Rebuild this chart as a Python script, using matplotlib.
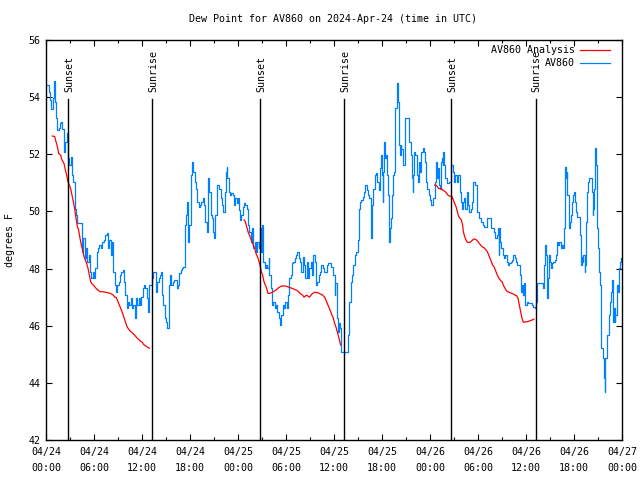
import matplotlib
matplotlib.use("Agg")
import matplotlib.pyplot as plt
import numpy as np

# ---------------- data ----------------
# hours since 2024-04-24 00:00 UTC
obs_hours = [0.17, 0.33, 0.5, 0.67, 0.83, 1.0, 1.17, 1.25, 1.42, 1.58, 1.75, 1.92, 2.04, 2.25, 2.42, 2.58, 2.75, 2.92, 3.08, 3.25,
             3.42, 3.58, 3.75, 3.92, 4.17, 4.33, 4.5, 4.67, 4.83, 5.0, 5.17, 5.33, 5.5, 5.67, 5.83, 6.0, 6.17, 6.33, 6.5, 6.67,
             6.83, 7.04, 7.25, 7.42, 7.58, 7.75, 7.92, 8.08, 8.25, 8.42, 8.58, 8.75, 8.92, 9.08, 9.25, 9.42, 9.58, 9.75, 9.92, 10.08,
             10.25, 10.42, 10.58, 10.75, 10.92, 11.08, 11.25, 11.42, 11.58, 11.75, 11.92, 12.08, 12.25,
             12.42, 12.58, 12.75, 12.92, 13.08, 13.25, 13.42, 13.58, 13.75, 13.92, 14.08, 14.25, 14.42, 14.5, 14.67, 14.83, 15.0, 15.17,
             15.33, 15.42, 15.5, 15.67, 15.83, 16.0, 16.17, 16.33, 16.5, 16.67, 16.83, 17.0, 17.17, 17.33, 17.42, 17.5, 17.67, 17.75,
             17.92, 18.08, 18.17, 18.29, 18.42, 18.58, 18.75, 18.92, 19.08, 19.25, 19.42, 19.58, 19.75, 19.92, 20.08, 20.25, 20.42,
             20.58, 20.75, 20.92, 21.04, 21.17, 21.33, 21.5, 21.67, 21.83, 22.0, 22.17, 22.33, 22.5, 22.58, 22.67, 22.83, 23.0,
             23.17, 23.33, 23.5, 23.67, 23.83, 24.0, 24.17,
             24.25, 24.42, 24.58, 24.75, 24.92, 25.08, 25.25, 25.42, 25.58, 25.75, 25.92, 26.08, 26.25, 26.42, 26.58, 26.67, 26.79,
             26.92, 27.0, 27.08, 27.17, 27.33, 27.5, 27.67, 27.83, 27.92, 28.08, 28.25, 28.42, 28.58, 28.75, 28.92, 29.08, 29.25,
             29.42, 29.58, 29.75, 29.92, 30.08, 30.25, 30.42, 30.58, 30.75, 30.92, 31.08, 31.25, 31.42, 31.58, 31.75, 31.92, 32.08,
             32.25, 32.42, 32.58, 32.75, 32.92, 33.08, 33.25, 33.42, 33.58, 33.75, 33.92, 34.08, 34.25, 34.42, 34.58, 34.75, 34.92,
             35.08, 35.25, 35.42, 35.58, 35.75, 35.92, 36.08, 36.17,
             36.33, 36.5, 36.67, 36.75, 36.92, 37.08, 37.25, 37.42, 37.58, 37.75, 37.92, 38.08, 38.25, 38.42, 38.58, 38.75, 38.92,
             39.0, 39.08, 39.25, 39.42, 39.58, 39.75, 39.92, 40.08, 40.25, 40.42, 40.58, 40.67, 40.75, 40.92, 41.08, 41.25, 41.42,
             41.58, 41.75, 41.92, 42.0, 42.08, 42.17, 42.29, 42.42, 42.5, 42.58, 42.75, 42.83, 42.92, 43.0, 43.08, 43.25, 43.33,
             43.5, 43.58, 43.67, 43.83, 43.92, 44.0, 44.08, 44.17, 44.25, 44.33, 44.42, 44.58, 44.67, 44.83, 44.92, 45.08, 45.25,
             45.33, 45.42, 45.58, 45.75, 45.83, 45.92, 46.0, 46.17, 46.33, 46.5, 46.58, 46.75, 46.92, 47.08, 47.25, 47.33, 47.5,
             47.67, 47.83, 48.0, 48.17,
             48.25, 48.42, 48.58, 48.75, 48.92, 49.0, 49.17, 49.25, 49.42, 49.5, 49.58, 49.67, 49.75, 49.92, 50.08, 50.25, 50.42,
             50.58, 50.67, 50.83, 51.0, 51.17, 51.33, 51.5, 51.67, 51.75, 51.83, 51.92, 52.0, 52.17, 52.25, 52.42, 52.58, 52.67,
             52.75, 52.92, 53.08, 53.25, 53.33, 53.5, 53.67, 53.83, 54.0, 54.17, 54.33, 54.42, 54.58, 54.75, 54.92, 55.08, 55.25,
             55.5, 55.67, 55.83, 56.0, 56.17, 56.33, 56.5, 56.58, 56.67, 56.75, 56.92, 57.08, 57.25, 57.42, 57.58, 57.75, 57.92,
             58.08, 58.25, 58.42, 58.58, 58.75, 58.92, 59.08, 59.25, 59.33, 59.5, 59.58, 59.75, 59.83, 59.92, 60.08, 60.17,
             60.25, 60.42, 60.58, 60.75, 60.92, 61.08, 61.25, 61.33, 61.42, 61.58, 61.75, 61.92, 62.08, 62.25, 62.42, 62.5, 62.58,
             62.67, 62.75, 62.92, 63.0, 63.17, 63.25, 63.42, 63.58, 63.75, 63.92, 64.0, 64.17, 64.33, 64.5, 64.67, 64.75, 64.83,
             64.92, 65.0, 65.08, 65.17, 65.33, 65.42, 65.5, 65.67, 65.75, 65.92, 66.0, 66.08, 66.17, 66.25, 66.33, 66.42, 66.58,
             66.75, 66.83, 66.92, 67.0, 67.08, 67.17, 67.33, 67.42, 67.5, 67.58, 67.75, 67.92, 68.08, 68.25, 68.33, 68.42, 68.5,
             68.58, 68.67, 68.75, 68.83, 68.92, 69.0, 69.17, 69.25, 69.33, 69.42, 69.58, 69.67, 69.75, 69.83, 69.92, 70.08, 70.17,
             70.33, 70.42, 70.5, 70.67, 70.75, 70.83, 70.92, 71.0, 71.08, 71.17, 71.33, 71.42, 71.5, 71.58, 71.67, 71.75, 71.83, 71.92]
obs_dewpt = [54.42, 54.19, 53.9, 53.6, 53.96, 54.57, 53.84, 53.26, 52.85, 52.91, 53.08, 53.14, 52.9, 52.09, 52.44, 52.73, 51.86, 51.63, 51.92, 51.27,
             51.04, 50.1, 49.87, 49.58, 49.58, 49.58, 48.59, 49.06, 48.36, 48.71, 48.24, 48.48, 47.89, 47.66, 47.89, 47.66, 48.01, 48.59, 48.71, 48.82,
             48.71, 48.94, 49.0, 49.17, 49.23, 48.71, 49.0, 48.48, 48.94, 47.89, 47.42, 47.19, 47.42, 47.54, 47.77, 47.89, 47.95, 47.54, 47.07, 46.61,
             46.84, 46.72, 46.96, 46.61, 46.72, 46.26, 46.96, 46.72, 46.96, 46.72, 47.0, 47.31, 47.42,
             47.31, 46.96, 46.49, 47.42, 47.42, 47.66, 47.89, 47.89, 47.19, 47.54, 47.66, 47.77, 47.89, 47.07, 46.72, 46.26, 46.14, 45.91,
             46.49, 47.42, 47.77, 47.42, 47.54, 47.6, 47.6, 47.31, 47.42, 47.83, 47.95, 48.01, 48.07, 48.48, 49.52, 49.87, 50.34, 48.94,
             49.52, 50.1, 51.27, 51.74, 51.39, 51.04, 50.8, 50.34, 50.17, 50.22, 50.34, 50.46, 50.22, 49.64, 49.29, 51.16, 50.69,
             49.87, 49.76, 49.29, 49.06, 49.87, 50.92, 50.92, 50.8, 50.46, 50.22, 49.99, 50.69, 51.39, 51.56, 51.16, 50.69, 50.57,
             50.63, 50.57, 50.22, 50.46, 50.28, 50.46, 50.05,
             49.7, 49.87, 50.17, 50.28, 50.22, 50.1, 49.52, 49.29, 48.94, 49.41, 48.71, 48.94, 48.59, 48.94, 48.71, 48.94, 49.41,
             48.59, 49.52, 49.06, 48.24, 48.01, 48.12, 48.01, 48.36, 47.77, 47.31, 46.72, 46.84, 46.61, 46.72, 46.49, 46.26, 46.02,
             46.37, 46.72, 46.61, 46.84, 46.61, 47.07, 47.66, 47.77, 48.18, 48.24, 48.36, 48.48, 48.59, 48.36, 48.24, 47.89, 48.42,
             48.12, 47.66, 48.24, 47.66, 48.01, 48.24, 47.77, 48.48, 48.24, 47.42, 47.54, 47.77, 47.89, 48.12, 48.01, 47.89, 47.89,
             48.12, 48.18, 48.18, 48.07, 48.07, 47.77, 47.07, 47.48,
             46.26, 45.79, 46.08, 45.91, 45.09, 45.09, 45.09, 45.09, 45.09, 45.67, 46.84, 47.54, 47.77, 48.12, 48.48, 48.59, 48.59,
             49.0, 50.1, 50.34, 50.4, 50.52, 50.69, 50.92, 50.75, 50.57, 50.46, 49.41, 49.06, 50.22, 50.8, 51.27, 51.33, 51.04,
             50.75, 51.51, 51.97, 51.27, 50.34, 51.39, 52.44, 51.86, 51.97, 51.27, 50.57, 50.22, 48.94, 49.41, 49.76, 50.57, 51.27,
             51.39, 52.09, 53.61, 53.73, 54.48, 53.84, 53.37, 52.32, 51.97, 52.32, 52.2, 51.97, 51.62, 51.97, 53.26, 53.26, 53.26,
             52.79, 52.44, 51.97, 51.16, 50.69, 51.27, 52.09, 51.97, 51.27, 51.04, 51.74, 51.39, 52.09, 52.21, 52.09, 51.74, 51.04,
             50.8, 50.57, 50.4, 50.22,
             50.22, 50.46, 51.04, 51.74, 51.16, 51.51, 50.92, 50.8, 51.74, 51.86, 51.62, 52.09, 51.62, 51.16, 50.98, 50.98, 51.04,
             51.04, 51.62, 51.39, 51.04, 51.27, 51.04, 51.27, 51.27, 50.69, 50.34, 50.34, 50.1, 50.34, 50.46, 50.1, 50.34, 50.69,
             50.22, 49.99, 50.1, 50.34, 51.04, 51.04, 50.92, 49.99, 49.99, 49.76, 49.76, 49.64, 49.52, 49.47, 49.47, 49.76, 49.76,
             49.76, 49.41, 49.41, 49.29, 49.06, 49.17, 49.41, 48.48, 49.41, 48.94, 48.71, 48.48, 48.36, 48.48, 48.24, 48.12, 48.18,
             48.24, 48.3, 48.48, 48.36, 48.24, 48.12, 48.12, 47.77, 47.19, 47.42, 47.07, 47.48, 47.19, 46.72, 46.78, 46.84,
             46.78, 46.78, 46.78, 46.72, 46.66, 46.61, 46.84, 47.25, 47.48, 47.48, 47.48, 47.48, 47.31, 48.12, 48.82, 48.48, 47.31,
             46.96, 47.66, 48.48, 48.24, 48.01, 48.18, 48.24, 48.3, 48.48, 48.94, 48.82, 48.94, 48.71, 48.82, 48.71, 49.41, 50.8,
             51.56, 51.16, 51.39, 50.57, 49.64, 49.41, 49.64, 49.87, 50.34, 50.57, 50.69, 50.46, 50.34, 49.99, 49.87, 49.82, 49.82,
             49.17, 48.42, 48.12, 48.42, 48.24, 48.48, 47.89, 48.12, 49.64, 50.69, 51.04, 51.16, 51.16, 50.69, 49.87, 50.1, 50.8,
             51.45, 52.21, 51.62, 50.46, 49.41, 48.71, 47.89, 47.42, 46.37, 45.21, 45.21, 44.86, 44.16, 43.69, 44.86, 45.32, 45.67,
             45.91, 46.37, 46.84, 47.19, 47.6, 46.84, 46.14, 46.61, 46.14, 46.37, 47.07, 47.42, 47.19, 47.19, 48.01, 48.24, 48.36, 48.36]

# analysis segments (one per night)
ana1_hours = [0.79, 1.08, 1.25, 1.42, 1.58, 1.83, 2.0, 2.25, 2.42, 2.58, 2.75, 2.92, 3.08, 3.25, 3.42, 3.58, 3.75, 3.92, 4.08, 4.25,
              4.42, 4.58, 4.75, 4.92, 5.08, 5.25, 5.42, 5.58, 5.75, 5.92, 6.08, 6.25, 6.58, 6.75, 7.08, 7.42, 7.75, 8.08, 8.42, 8.58,
              8.75, 8.92, 9.08, 9.25, 9.42, 9.58, 9.75, 9.92, 10.08, 10.25, 10.42, 10.58, 10.75, 11.08, 11.42, 11.75, 12.08, 12.17,
              12.58, 12.92]
ana1_dewpt = [52.64, 52.62, 52.44, 52.27, 52.03, 51.97, 51.8, 51.68, 51.45, 51.27, 51.04, 50.92, 50.8, 50.57, 50.34, 50.1, 49.76, 49.47, 49.35, 49.06,
              48.82, 48.65, 48.42, 48.3, 48.18, 48.01, 47.77, 47.54, 47.46, 47.42, 47.37, 47.31, 47.23, 47.19, 47.19, 47.17, 47.15, 47.13, 47.07, 47.0,
              47.0, 46.9, 46.78, 46.67, 46.55, 46.43, 46.28, 46.14, 46.0, 45.91, 45.85, 45.8, 45.76, 45.67, 45.56, 45.47, 45.41, 45.35,
              45.27, 45.21]
ana2_hours = [24.75, 24.92, 25.08, 25.25, 25.42, 25.58, 25.75, 25.92, 26.08, 26.25, 26.42, 26.58, 26.75, 26.92, 27.08, 27.25, 27.42,
              27.58, 27.75, 28.08, 28.42, 28.75, 29.08, 29.42, 29.92, 30.42, 30.75, 31.08, 31.42, 31.75, 32.08, 32.25, 32.58, 32.92,
              33.25, 33.58, 33.92, 34.25, 34.58, 34.83, 35.08, 35.25, 35.42, 35.58, 35.75, 35.92, 36.08, 36.25, 36.5, 36.83]
ana2_dewpt = [49.7, 49.64, 49.47, 49.29, 49.17, 49.06, 48.94, 48.82, 48.71, 48.53, 48.42, 48.3, 48.12, 47.89, 47.77, 47.54, 47.42,
              47.31, 47.13, 47.14, 47.19, 47.25, 47.33, 47.39, 47.39, 47.34, 47.31, 47.27, 47.23, 47.13, 47.07, 47.0, 47.07, 47.0,
              47.11, 47.17, 47.16, 47.12, 47.07, 47.0, 46.84, 46.72, 46.61, 46.49, 46.37, 46.26, 46.08, 45.95, 45.7, 45.32]
ana3_hours = [48.58, 48.75, 48.92, 49.08, 49.42, 49.58, 49.92, 50.08, 50.25, 50.42, 50.75, 50.92, 51.08, 51.25, 51.42, 51.58, 51.75,
              51.92, 52.08, 52.17, 52.33, 52.5, 52.67, 53.0, 53.17, 53.33, 53.5, 53.83, 54.0, 54.17, 54.33, 54.5, 54.83, 55.0,
              55.17, 55.33, 55.5, 55.67, 55.83, 56.0, 56.17, 56.33, 56.5, 56.67, 56.83, 57.0, 57.17, 57.33, 57.5, 57.67, 58.0,
              58.33, 58.67, 58.83, 59.0, 59.17, 59.33, 59.5, 59.67, 60.0, 60.17, 60.58, 61.0]
ana3_dewpt = [50.92, 50.92, 50.87, 50.8, 50.8, 50.75, 50.69, 50.63, 50.57, 50.54, 50.52, 50.4, 50.28, 50.17, 49.99, 49.82, 49.76,
              49.7, 49.52, 49.29, 49.12, 49.0, 48.92, 48.92, 48.96, 49.0, 49.04, 49.0, 48.94, 48.88, 48.82, 48.77, 48.71, 48.65,
              48.59, 48.48, 48.36, 48.24, 48.12, 48.07, 47.95, 47.83, 47.72, 47.64, 47.58, 47.54, 47.42, 47.33, 47.25, 47.19, 47.16,
              47.12, 47.07, 47.05, 46.96, 46.72, 46.49, 46.26, 46.12, 46.14, 46.14, 46.18, 46.23]

sunset_hours = [2.8, 26.8, 50.67]
sunrise_hours = [13.29, 37.29, 61.2]

xtick_hours = [0, 6, 12, 18, 24, 30, 36, 42, 48, 54, 60, 66, 72]
xtick_labels = ["04/24\n00:00", "04/24\n06:00", "04/24\n12:00", "04/24\n18:00",
                "04/25\n00:00", "04/25\n06:00", "04/25\n12:00", "04/25\n18:00",
                "04/26\n00:00", "04/26\n06:00", "04/26\n12:00", "04/26\n18:00",
                "04/27\n00:00"]
ytick_vals = [42, 44, 46, 48, 50, 52, 54, 56]

# ---------------- plot ----------------
FONT = "DejaVu Sans Mono"
FS = 7.2
plt.rcParams["font.family"] = [FONT, "DejaVu Sans"]

fig = plt.figure(figsize=(6.4, 4.8), dpi=100)
ax = fig.add_axes([46 / 640, 40 / 480, 576 / 640, 400 / 480])

BLUE = "#0080ff"
RED = "#ff0000"

for h, v in [(ana1_hours, ana1_dewpt), (ana2_hours, ana2_dewpt), (ana3_hours, ana3_dewpt)]:
    ax.plot(h, v, color=RED, lw=0.9, zorder=3)
ax.plot(obs_hours, obs_dewpt, color=BLUE, lw=0.9, drawstyle="steps-post", zorder=2)

for h in sunset_hours:
    ax.plot([h, h], [42, 53.93], color="black", lw=1.0, zorder=4)
    ax.text(h + 0.1, 54.18, "Sunset", rotation=90, ha="center", va="bottom", fontsize=FS, family=FONT)
for h in sunrise_hours:
    ax.plot([h, h], [42, 53.93], color="black", lw=1.0, zorder=4)
    ax.text(h + 0.1, 54.18, "Sunrise", rotation=90, ha="center", va="bottom", fontsize=FS, family=FONT)

ax.set_xlim(0, 72)
ax.set_ylim(42, 56)
ax.set_xticks(xtick_hours)
ax.set_xticklabels(xtick_labels, fontsize=FS, family=FONT, linespacing=1.75)
ax.set_xticks(np.arange(3, 72, 6), minor=True)
ax.set_yticks(ytick_vals)
ax.set_yticklabels([str(v) for v in ytick_vals], fontsize=FS, family=FONT)
ax.tick_params(axis="both", which="major", direction="in", length=4.5, width=0.8,
               top=True, right=True, pad=4)
ax.tick_params(axis="x", which="major", pad=5)
ax.tick_params(axis="x", which="minor", direction="in", length=2.5, width=0.8, top=True)
for s in ax.spines.values():
    s.set_linewidth(1.0)

# legend
ax.text(0.918, 0.975, "AV860 Analysis", transform=ax.transAxes, ha="right", va="center",
        fontsize=FS, family=FONT)
ax.plot([0.927, 0.979], [0.975, 0.975], transform=ax.transAxes, color=RED, lw=0.9)
ax.text(0.918, 0.9425, "AV860", transform=ax.transAxes, ha="right", va="center",
        fontsize=FS, family=FONT)
ax.plot([0.927, 0.979], [0.9425, 0.9425], transform=ax.transAxes, color=BLUE, lw=0.9)

fig.text(333 / 640, 1 - 19 / 480, "Dew Point for AV860 on 2024-Apr-24 (time in UTC)",
         ha="center", va="center", fontsize=FS, family=FONT)
fig.text(10 / 640, 240 / 480, "degrees F", rotation=90, ha="center", va="center",
         fontsize=FS, family=FONT)

fig.savefig("out.png", dpi=100)
